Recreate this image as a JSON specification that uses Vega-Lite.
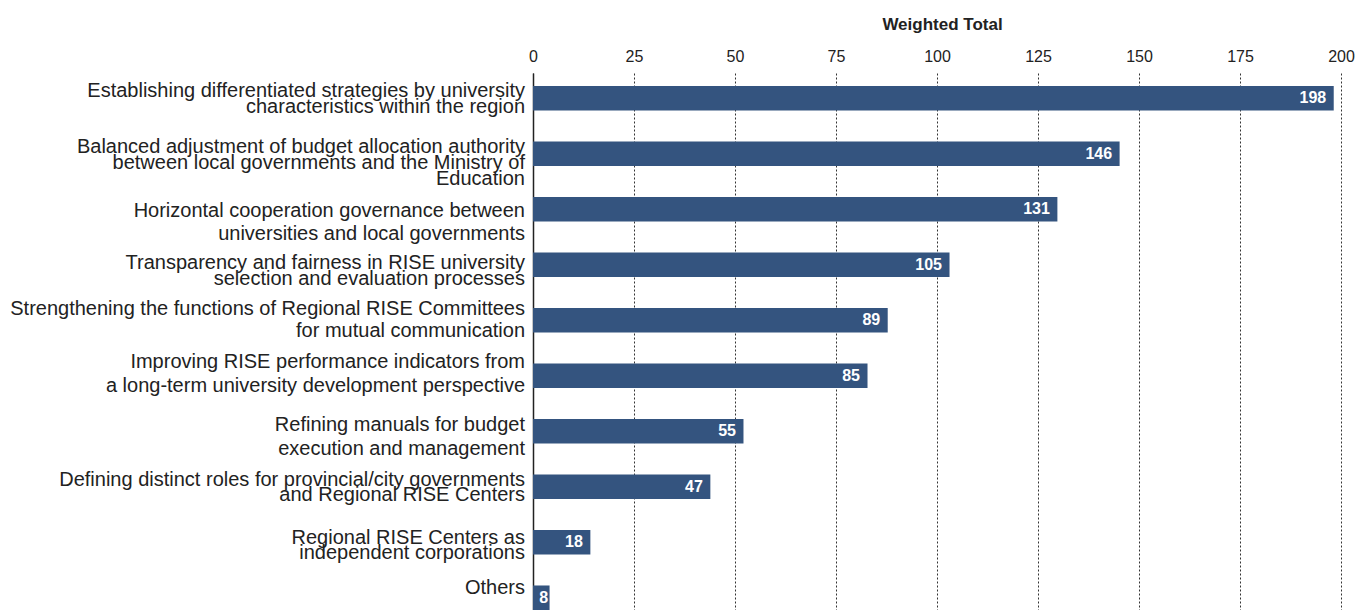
{
  "$schema": "https://vega.github.io/schema/vega-lite/v6.json",
  "width": 808,
  "height": 537,
  "autosize": {"type": "none"},
  "padding": {"left": 533, "top": 73, "right": 21, "bottom": 0},
  "background": "white",
  "config": {"view": {"stroke": null}, "font": "Liberation Sans"},
  "data": {
    "values": [
      {"item": "Establishing differentiated strategies by university|characteristics within the region", "bar_length": 198.2, "weighted_total": 198},
      {"item": "Balanced adjustment of budget allocation authority|between local governments and the Ministry of|Education", "bar_length": 145.2, "weighted_total": 146},
      {"item": "Horizontal cooperation governance between|universities and local governments", "bar_length": 129.8, "weighted_total": 131},
      {"item": "Transparency and fairness in RISE university|selection and evaluation processes", "bar_length": 103.1, "weighted_total": 105},
      {"item": "Strengthening the functions of Regional RISE Committees|for mutual communication", "bar_length": 87.8, "weighted_total": 89},
      {"item": "Improving RISE performance indicators from|a long-term university development perspective", "bar_length": 82.8, "weighted_total": 85},
      {"item": "Refining manuals for budget|execution and management", "bar_length": 52.1, "weighted_total": 55},
      {"item": "Defining distinct roles for provincial/city governments|and Regional RISE Centers", "bar_length": 43.9, "weighted_total": 47},
      {"item": "Regional RISE Centers as|independent corporations", "bar_length": 14.2, "weighted_total": 18},
      {"item": "Others", "bar_length": 4.1, "weighted_total": 8}
    ]
  },
  "encoding": {
    "y": {
      "field": "item",
      "type": "nominal",
      "sort": null,
      "scale": {"range": [0, 550], "paddingInner": 0.558, "paddingOuter": 0.234},
      "axis": {
        "title": null,
        "labels": false,
        "ticks": false,
        "tickSize": 0,
        "domain": true,
        "domainColor": "#222222",
        "domainWidth": 1.5,
        "grid": false
      }
    }
  },
  "layer": [
    {
      "mark": {"type": "bar", "color": "#34547f"},
      "encoding": {
        "x": {
          "field": "bar_length",
          "type": "quantitative",
          "scale": {"domain": [0, 200], "nice": false},
          "axis": {
            "orient": "top",
            "title": "Weighted Total",
            "titleFontSize": 17,
            "titleFontWeight": "bold",
            "titleColor": "#222222",
            "titleBaseline": "alphabetic",
            "titleY": -44,
            "titleX": 409,
            "values": [0, 25, 50, 75, 100, 125, 150, 175, 200],
            "labelFontSize": 16,
            "labelColor": "#222222",
            "labelPadding": 9,
            "labelFlush": false,
            "ticks": false,
            "tickSize": 0,
            "domain": false,
            "grid": true,
            "gridDash": [2, 2],
            "gridColor": "#333333",
            "gridWidth": 1,
            "gridOpacity": 1
          }
        }
      }
    },
    {
      "mark": {
        "type": "text",
        "align": "right",
        "baseline": "middle",
        "dx": {"expr": "datum.weighted_total < 10 ? -1.5 : -7.5"},
        "color": "white",
        "fontSize": 16,
        "fontWeight": "bold"
      },
      "encoding": {
        "x": {"field": "bar_length", "type": "quantitative"},
        "text": {"field": "weighted_total", "type": "quantitative"}
      }
    },
    {
      "mark": {
        "type": "text",
        "align": "right",
        "baseline": "middle",
        "dx": -8,
        "fontSize": 20,
        "color": "#222222",
        "text": {"expr": "split(datum.item, '|')"},
        "lineHeight": {"expr": "[15.7,16,23,16,22,24,24,15.7,15.7,20][indexof(['Esta','Bala','Hori','Tran','Stre','Impr','Refi','Defi','Regi','Othe'], slice(datum.item,0,4))]"},
        "dy": {"expr": "[-7.3,-7,1.6,-2,-11.5,-14.2,-6.3,-7,-4.6,-9.8][indexof(['Esta','Bala','Hori','Tran','Stre','Impr','Refi','Defi','Regi','Othe'], slice(datum.item,0,4))]"}
      },
      "encoding": {
        "x": {"datum": 0, "type": "quantitative"}
      }
    }
  ]
}
